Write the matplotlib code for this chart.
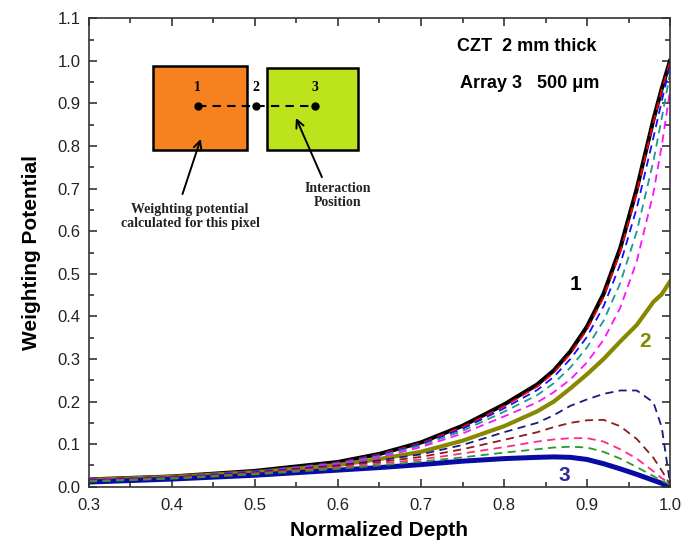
import matplotlib
matplotlib.use("Agg")
import matplotlib.pyplot as plt
from matplotlib.patches import Rectangle
from matplotlib.ticker import MultipleLocator, FormatStrFormatter

plt.rcParams['font.family'] = ['Liberation Sans', 'DejaVu Sans']

# normalized depth grid shared by all curves
depth = [0.3, 0.4, 0.5, 0.6, 0.65, 0.7, 0.75, 0.8, 0.84, 0.86,
         0.88, 0.9, 0.92, 0.94, 0.96, 0.98, 0.99, 1.0]

# solid curves (position 1, 2, 3)
wp_pos1 = [0.017, 0.024, 0.037, 0.058, 0.077, 0.104, 0.143, 0.193, 0.240, 0.273,
           0.318, 0.376, 0.453, 0.560, 0.700, 0.862, 0.935, 1.0]
wp_pos2 = [0.016, 0.023, 0.034, 0.051, 0.065, 0.082, 0.108, 0.142, 0.177, 0.200,
           0.231, 0.264, 0.300, 0.341, 0.380, 0.434, 0.452, 0.482]
wp_pos3 = [0.011, 0.018, 0.027, 0.039, 0.045, 0.052, 0.060, 0.066, 0.069, 0.070,
           0.069, 0.064, 0.054, 0.042, 0.029, 0.015, 0.008, 0.0]

# dashed curves between 1 and 2
wp_red = [0.017, 0.024, 0.036, 0.057, 0.076, 0.102, 0.140, 0.189, 0.235, 0.268,
          0.312, 0.369, 0.445, 0.551, 0.692, 0.856, 0.931, 0.998]
wp_blue = [0.017, 0.023, 0.036, 0.056, 0.074, 0.100, 0.136, 0.184, 0.227, 0.258,
           0.300, 0.352, 0.424, 0.522, 0.655, 0.820, 0.905, 0.990]
wp_teal = [0.016, 0.023, 0.035, 0.055, 0.072, 0.097, 0.131, 0.176, 0.215, 0.243,
           0.280, 0.327, 0.390, 0.478, 0.600, 0.765, 0.865, 0.970]
wp_magenta = [0.016, 0.022, 0.034, 0.053, 0.069, 0.093, 0.125, 0.165, 0.198, 0.222,
              0.252, 0.292, 0.345, 0.420, 0.530, 0.690, 0.800, 0.930]

# dashed curves between 2 and 3
wp_navy = [0.015, 0.022, 0.034, 0.050, 0.062, 0.076, 0.098, 0.128, 0.150, 0.168,
           0.190, 0.205, 0.218, 0.226, 0.226, 0.198, 0.140, 0.008]
wp_brown = [0.014, 0.021, 0.032, 0.048, 0.058, 0.070, 0.088, 0.110, 0.128, 0.140,
            0.150, 0.156, 0.157, 0.142, 0.112, 0.068, 0.038, 0.005]
wp_pink = [0.013, 0.020, 0.031, 0.045, 0.054, 0.064, 0.078, 0.093, 0.106, 0.111,
           0.114, 0.114, 0.106, 0.088, 0.066, 0.036, 0.020, 0.008]
wp_green = [0.012, 0.019, 0.029, 0.042, 0.050, 0.059, 0.069, 0.080, 0.088, 0.092,
            0.094, 0.092, 0.082, 0.066, 0.046, 0.025, 0.014, 0.005]

fig = plt.figure(figsize=(6.86, 5.44), dpi=100)
ax = fig.add_axes([0.1297, 0.1053, 0.847, 0.861])

ax.plot(depth, wp_pos1, color="black", lw=3.0)
ax.plot(depth, wp_pos2, color="#878700", lw=3.0)
ax.plot(depth, wp_pos3, color="#0a0aa5", lw=3.6)

dash = (0, (4.5, 3))
for vals, c in [(wp_red, "#ff0000"), (wp_blue, "#1010ff"), (wp_teal, "#1a9a8a"),
                (wp_magenta, "#ff10ff"), (wp_navy, "#1a1a80"), (wp_brown, "#8b1c1c"),
                (wp_pink, "#ff2a80"), (wp_green, "#2a9a2a")]:
    ax.plot(depth, vals, color=c, lw=1.3, linestyle=dash)

ax.set_xlim(0.3, 1.0)
ax.set_ylim(0.0, 1.1)
ax.xaxis.set_major_locator(MultipleLocator(0.1))
ax.xaxis.set_minor_locator(MultipleLocator(0.05))
ax.yaxis.set_major_locator(MultipleLocator(0.1))
ax.yaxis.set_minor_locator(MultipleLocator(0.05))
ax.xaxis.set_major_formatter(FormatStrFormatter("%.1f"))
ax.yaxis.set_major_formatter(FormatStrFormatter("%.1f"))
ax.tick_params(which="both", direction="in", top=True, right=True, width=1.1,
               labelsize=12, colors="#222222")
ax.tick_params(which="major", length=6)
ax.tick_params(axis="x", which="major", pad=8)
ax.tick_params(axis="y", which="major", pad=6)
ax.tick_params(which="minor", length=3.5)
for s in ax.spines.values():
    s.set_linewidth(1.2)
    s.set_color("#333333")

ax.set_xlabel("Normalized Depth", fontsize=15, fontweight="bold", labelpad=6)
ax.set_ylabel("Weighting Potential", fontsize=15, fontweight="bold", labelpad=12)

# curve labels
ax.text(0.886, 0.474, "1", fontsize=15, fontweight="bold", color="black", ha="center", va="center")
ax.text(0.97, 0.34, "2", fontsize=15, fontweight="bold", color="#878700", ha="center", va="center")
ax.text(0.873, 0.027, "3", fontsize=15, fontweight="bold", color="#2a2a9a", ha="center", va="center")

ax.text(0.743, 1.034, "CZT  2 mm thick", fontsize=13, fontweight="bold", va="center")
ax.text(0.747, 0.948, "Array 3   500 \u03bcm", fontsize=13, fontweight="bold", va="center")

# inset sketch of the two pixels
ax.add_patch(Rectangle((0.3775, 0.791), 0.1125, 0.196, facecolor="#f5821f",
                       edgecolor="black", lw=1.8, zorder=3))
ax.add_patch(Rectangle((0.514, 0.790), 0.1105, 0.193, facecolor="#bde31d",
                       edgecolor="black", lw=1.8, zorder=3))
ax.plot([0.431, 0.572], [0.893, 0.893], color="black", lw=1.5, linestyle=(0, (4, 3)), zorder=4)
ax.plot([0.431, 0.501, 0.572], [0.893, 0.893, 0.893], "o", color="black", ms=5, zorder=5)
for xp, lab in [(0.431, "1"), (0.501, "2"), (0.572, "3")]:
    ax.text(xp, 0.937, lab, fontsize=10, fontweight="bold", family="Liberation Serif",
            ha="center", va="center", zorder=5)
ax.annotate("", xy=(0.4357, 0.823), xytext=(0.4116, 0.681),
            arrowprops=dict(arrowstyle="->", color="black", lw=1.4,
                            mutation_scale=14), zorder=5)
ax.annotate("", xy=(0.548, 0.872), xytext=(0.582, 0.721),
            arrowprops=dict(arrowstyle="->", color="black", lw=1.4,
                            mutation_scale=14), zorder=5)
ax.text(0.4217, 0.634, "Weighting potential\ncalculated for this pixel", fontsize=10,
        fontweight="bold", family="Liberation Serif", ha="center", va="center",
        linespacing=1.1, color="#222222")
ax.text(0.600, 0.684, "Interaction\nPosition", fontsize=10, fontweight="bold",
        family="Liberation Serif", ha="center", va="center", linespacing=1.1, color="#222222")

plt.savefig("out.png", dpi=100)
